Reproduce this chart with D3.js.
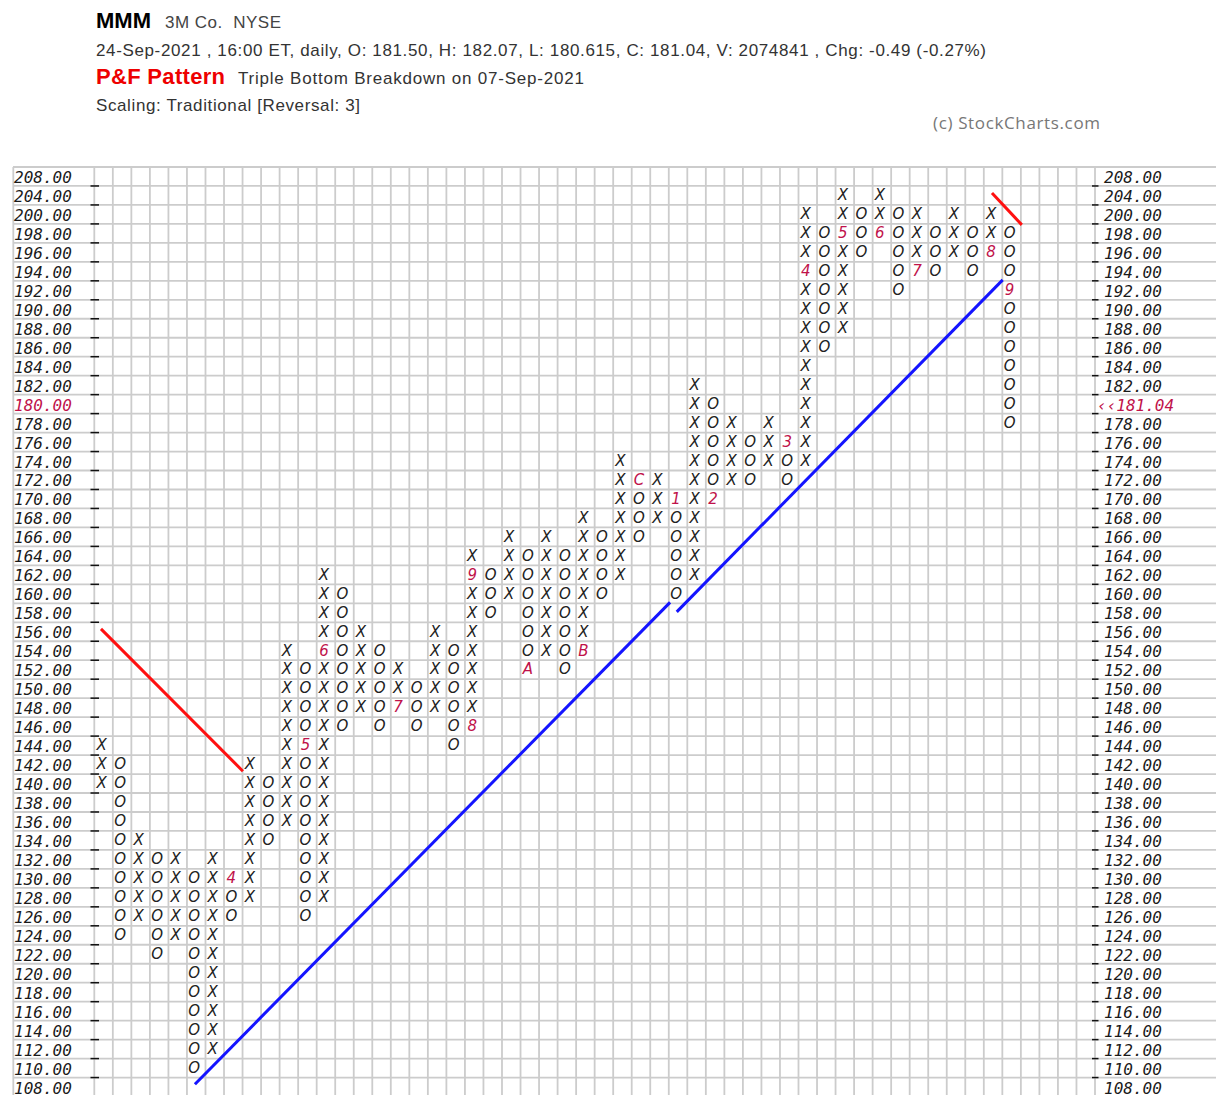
<!DOCTYPE html>
<html>
<head>
  <title>MMM Point & Figure</title>
  <style>
    body { margin: 0; background: #ffffff; }
    .hdr { font-family: "Liberation Sans", Arial, sans-serif; }
    .axlab { font-family: "DejaVu Sans Mono", monospace; font-style: italic; font-size: 16px; }
    .box { font-family: "DejaVu Sans", sans-serif; font-style: italic; font-size: 15px; }
  </style>
</head>
<body>

  <svg width="1216" height="1095" id="chart"></svg>

  <script src="https://cdnjs.cloudflare.com/ajax/libs/d3/7.8.5/d3.min.js"></script>
  <script>

// box prices (traditional scaling: 4 above 200, 2 below)
let boxPrices = [208, 204, 200, 198, 196, 194, 192, 190, 188, 186, 184, 182, 180, 178, 176, 174,
  172, 170, 168, 166, 164, 162, 160, 158, 156, 154, 152, 150, 148, 146, 144, 142, 140, 138,
  136, 134, 132, 130, 128, 126, 124, 122, 120, 118, 116, 114, 112, 110, 108];

// one entry per P&F column
let colType = ['X','O','X','O','X','O','X','O','X','O','X','O','X','O','X','O','X','O','X','O',
  'X','O','X','O','X','O','X','O','X','O','X','O','X','O','X','O','X','O','X','O',
  'X','O','X','O','X','O','X','O','X','O'];
let colLow  = [140, 124, 126, 122, 124, 110, 112, 126, 128, 134, 136, 126, 128, 146, 148, 146, 148, 146, 148, 144,
  146, 158, 160, 152, 154, 152, 154, 160, 162, 166, 168, 160, 162, 170, 172, 172, 174, 172, 174, 186,
  188, 196, 198, 192, 194, 194, 196, 194, 196, 178];
let colHigh = [144, 142, 134, 132, 132, 130, 132, 130, 142, 140, 154, 152, 162, 160, 156, 154, 152, 150, 156, 154,
  164, 162, 166, 164, 166, 164, 168, 166, 174, 172, 172, 170, 182, 180, 178, 176, 178, 176, 200, 198,
  204, 200, 204, 200, 200, 198, 200, 198, 200, 198];

// month markers replacing a box: column, price, label
let monthCol   = [7, 11, 12, 16, 20, 20, 23, 26, 29, 31, 33, 37, 38, 40, 42, 44, 48, 49];
let monthPrice = [130, 144, 154, 148, 146, 162, 152, 154, 172, 170, 170, 176, 194, 198, 198, 194, 196, 192];
let monthLabel = ['4','5','6','7','8','9','A','B','C','1','2','3','4','5','6','7','8','9'];

// trend lines, [column, price] end points
let bearishLines = [
  [[0.36, 156.3], [8.02, 141.3]],
  [[48.44, 204.5], [50.05, 198.9]]
];
let bullishLines = [
  [[5.43, 108.3], [31.07, 159.1]],
  [[31.43, 158.1], [49.02, 193.1]]
];

let lastClose = 181.04;
let lastBox = 180;

let svg = d3.select("#chart");

let nCols = 54;
let gridLeft = 94.3, gridRight = 1095, gridTop = 167, rowH = 18.97;
let gridBottom = gridTop + rowH * boxPrices.length;

let x = d3.scaleBand().domain(d3.range(nCols)).range([gridLeft, gridRight]);
let y = d3.scaleBand().domain(boxPrices).range([gridTop, gridBottom]);
let colX = d3.scaleLinear().domain([0, nCols]).range([gridLeft, gridRight]);
let priceY = d3.scaleLinear().domain([210, 200, 107]).range([gridTop, y(200) + rowH / 2, gridBottom]);

// header
let hdr = svg.append("g").attr("class", "hdr");
hdr.append("text").attr("x", 96).attr("y", 28).attr("font-size", 22).attr("font-weight", "bold")
  .attr("fill", "#000").text("MMM");
hdr.append("text").attr("x", 165).attr("y", 28).attr("font-size", 17).attr("fill", "#444")
  .attr("xml:space", "preserve").attr("textLength", 116).text("3M Co.  NYSE");
hdr.append("text").attr("x", 96).attr("y", 56).attr("font-size", 17).attr("fill", "#333")
  .attr("textLength", 890)
  .text("24-Sep-2021 , 16:00 ET, daily, O: 181.50, H: 182.07, L: 180.615, C: 181.04, V: 2074841 , Chg: -0.49 (-0.27%)");
hdr.append("text").attr("x", 96).attr("y", 84).attr("font-size", 22).attr("font-weight", "bold")
  .attr("fill", "#ee0000").attr("textLength", 129).text("P&F Pattern");
hdr.append("text").attr("x", 238).attr("y", 84).attr("font-size", 17).attr("fill", "#333")
  .attr("textLength", 346).text("Triple Bottom Breakdown on 07-Sep-2021");
hdr.append("text").attr("x", 96).attr("y", 111).attr("font-size", 17).attr("fill", "#333")
  .attr("textLength", 264).text("Scaling: Traditional [Reversal: 3]");
svg.append("text").attr("x", 933).attr("y", 129).attr("font-family", "'Open Sans', sans-serif")
  .attr("font-size", 17).attr("fill", "#777").attr("textLength", 167).text("(c) StockCharts.com");

// grid
let grid = svg.append("g").attr("stroke", "#cccccc").attr("stroke-width", 1.8);
grid.selectAll("line.h").data(d3.range(boxPrices.length + 1)).enter().append("line")
  .attr("x1", 13).attr("x2", 1216)
  .attr("y1", d => gridTop + d * rowH).attr("y2", d => gridTop + d * rowH);
grid.selectAll("line.v").data(d3.range(nCols + 1)).enter().append("line")
  .attr("x1", d => colX(d)).attr("x2", d => colX(d))
  .attr("y1", gridTop).attr("y2", 1095);
grid.append("line").attr("x1", 13.3).attr("x2", 13.3).attr("y1", gridTop).attr("y2", 1095);

// tick marks on both axes
let ticks = svg.append("g").attr("stroke", "#111").attr("stroke-width", 1.5);
boxPrices.forEach(function(p) {
  let ty = y(p) + rowH;
  ticks.append("line").attr("x1", 90.5).attr("x2", 99).attr("y1", ty).attr("y2", ty);
  ticks.append("line").attr("x1", 1092).attr("x2", 1098.5).attr("y1", ty).attr("y2", ty);
});

// price labels
let labels = svg.append("g").attr("class", "axlab");
boxPrices.forEach(function(p) {
  let ly = y(p) + rowH - 3;
  labels.append("text").attr("x", 14).attr("y", ly)
    .attr("fill", p == lastBox ? "#c0124a" : "#1a1a1a").text(p.toFixed(2));
  if (p == lastBox) {
    labels.append("text").attr("x", 1097).attr("y", ly).attr("fill", "#c0124a")
      .text("\u2039\u2039" + lastClose.toFixed(2));
  } else {
    labels.append("text").attr("x", 1104).attr("y", ly).attr("fill", "#1a1a1a").text(p.toFixed(2));
  }
});

// build boxes from columns
let boxes = [];
colType.forEach(function(t, c) {
  boxPrices.filter(p => p >= colLow[c] && p <= colHigh[c]).forEach(function(p) {
    let m = monthCol.findIndex((mc, i) => mc == c && monthPrice[i] == p);
    boxes.push({ col: c, price: p, label: m >= 0 ? monthLabel[m] : t, month: m >= 0 });
  });
});

svg.append("g").attr("class", "box").selectAll("text").data(boxes).enter().append("text")
  .attr("x", d => x(d.col) + x.bandwidth() / 2 - 2)
  .attr("y", d => y(d.price) + rowH - 4.7)
  .attr("text-anchor", "middle")
  .attr("fill", d => d.month ? "#c0124a" : "#222")
  .text(d => d.label);

// trend lines
let line = d3.line().x(d => colX(d[0])).y(d => priceY(d[1]));
svg.append("g").selectAll("path").data(bearishLines).enter().append("path")
  .attr("d", line).attr("stroke", "#ff1010").attr("stroke-width", 3).attr("fill", "none");
svg.append("g").selectAll("path").data(bullishLines).enter().append("path")
  .attr("d", line).attr("stroke", "#1414ff").attr("stroke-width", 3).attr("fill", "none");

  </script>
</body>
</html>
